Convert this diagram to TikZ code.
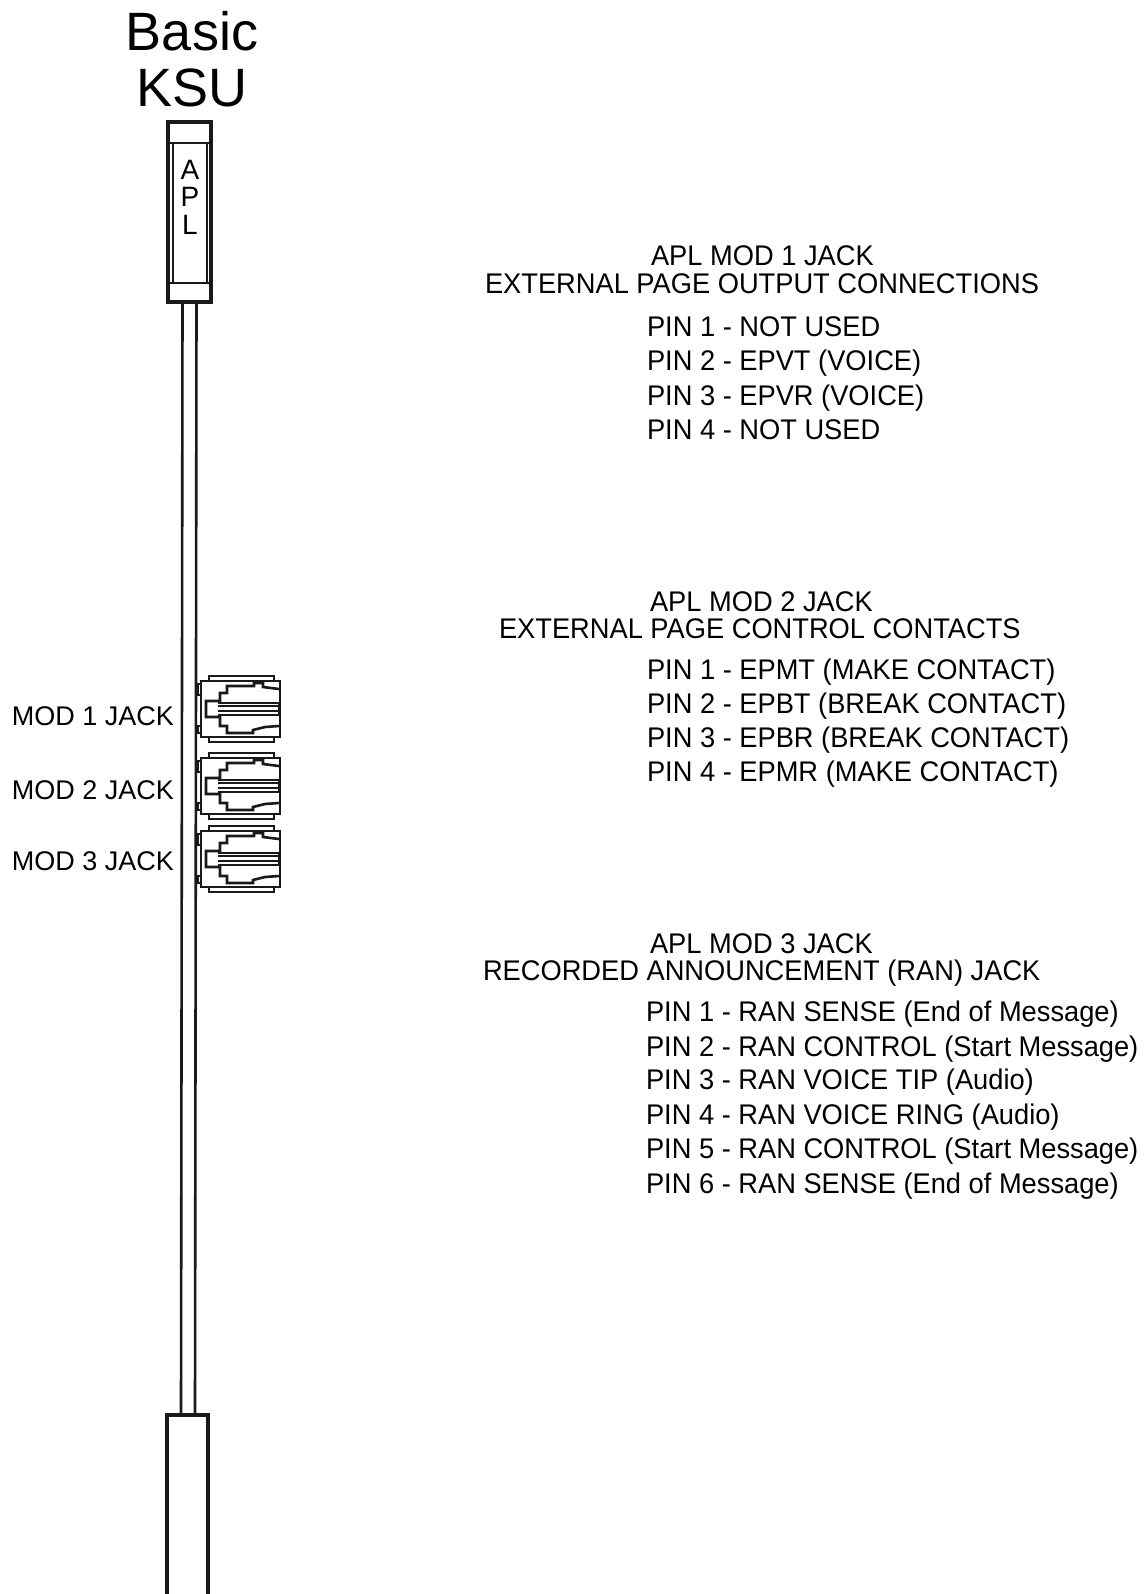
\documentclass[tikz,border=0pt]{standalone}
\usepackage{fontspec}
\setmainfont{Liberation Sans}
\newfontfamily\narrowfont[FakeStretch=0.96]{Liberation Sans}
\newcommand{\fs}[1]{\fontsize{#1}{#1}\selectfont}
\tikzset{
  x=1pt,y=-1pt,
  txt/.style={anchor=base west,inner sep=0pt,outer sep=0pt,font=\narrowfont\fs{28.4}},
  lbl/.style={anchor=base west,inner sep=0pt,outer sep=0pt,font=\fs{27}},
  ttl/.style={anchor=base,inner sep=0pt,outer sep=0pt,font=\fs{54}},
  apl/.style={anchor=base,inner sep=0pt,outer sep=0pt,font=\fs{28}},
  ln/.style={draw=black!90,line width=2.6pt,line join=miter},
  thk/.style={draw=black!90,line width=3.2pt,line join=miter},
  jack/.pic={
    \draw[ln] (0,-28) rectangle (79,28);
    \draw[ln] (8,-28) -- (8,-33) -- (73,-33) -- (73,-28);
    \draw[ln] (8,28) -- (8,33) -- (73,33) -- (73,28);
    \draw[ln] (0,-25) -- (-3,-25) -- (-3,-14) -- (0,-14);
    \draw[ln] (0,17) -- (-3,17) -- (-3,24) -- (0,24);
    \draw[ln] (78,-20) -- (62,-22) -- (62,-26) -- (53,-26) -- (53,-23) -- (26,-23) -- (26,-16) -- (19,-16) -- (19,-8) -- (5,-8) -- (5,8) -- (19,8) -- (19,17) -- (26,17) -- (26,24) -- (52,24) -- (52,21) -- (64,18) -- (78,17);
    \foreach \yy in {-6,-3,2,6}{\draw[draw=black!90,line width=1.8pt] (17,\yy) -- (79,\yy);}
    \draw[line width=2.8pt,black!90] (78,-6) -- (78,7);
  }
}
\begin{document}
\begin{tikzpicture}
\useasboundingbox (0,0) rectangle (1145,1594);
% title
\node[ttl] (t1) at (192,51) {Basic};
\node[ttl] (t2) at (192,107) {KSU};
% top housing
\draw[thk] (168,122) rectangle (211,302);
\draw[ln] (168,143) -- (211,143);
\draw[ln] (168,283) -- (211,283);
\draw[ln] (173,143) -- (173,283);
\draw[ln] (207,143) -- (207,283);
\node[apl] (a1) at (190,180) {A};
\node[apl] (a2) at (190,207) {P};
\node[apl] (a3) at (190,235) {L};
% stem
\draw[ln] (182.5,302) -- (181,1415);
\draw[ln] (196.5,302) -- (195,1415);
% bottom housing
\draw[thk] (167,1594) -- (167,1415) -- (208,1415) -- (208,1594);
% jacks
\pic at (201,709) {jack};
\pic at (201,786) {jack};
\pic at (201,859) {jack};
% labels
\node[lbl] (m1) at (12,725) {MOD 1 JACK};
\node[lbl] (m2) at (12,799) {MOD 2 JACK};
\node[lbl] (m3) at (12,870) {MOD 3 JACK};
% block 1
\node[txt] at (651,266) {APL MOD 1 JACK};
\node[txt] at (485,294) {EXTERNAL PAGE OUTPUT CONNECTIONS};
\node[txt] at (647,336) {PIN 1 - NOT USED};
\node[txt] at (647,370) {PIN 2 - EPVT (VOICE)};
\node[txt] at (647,405) {PIN 3 - EPVR (VOICE)};
\node[txt] at (647,439) {PIN 4 - NOT USED};
% block 2
\node[txt] at (650,611) {APL MOD 2 JACK};
\node[txt] at (499,638) {EXTERNAL PAGE CONTROL CONTACTS};
\node[txt] at (647,679) {PIN 1 - EPMT (MAKE CONTACT)};
\node[txt] at (647,713) {PIN 2 - EPBT (BREAK CONTACT)};
\node[txt] at (647,747) {PIN 3 - EPBR (BREAK CONTACT)};
\node[txt] at (647,781) {PIN 4 - EPMR (MAKE CONTACT)};
% block 3
\node[txt] at (650,953) {APL MOD 3 JACK};
\node[txt] at (483,980) {RECORDED ANNOUNCEMENT (RAN) JACK};
\node[txt] at (646,1021) {PIN 1 - RAN SENSE (End of Message)};
\node[txt] at (646,1056) {PIN 2 - RAN CONTROL (Start Message)};
\node[txt] at (646,1089) {PIN 3 - RAN VOICE TIP (Audio)};
\node[txt] at (646,1124) {PIN 4 - RAN VOICE RING (Audio)};
\node[txt] at (646,1158) {PIN 5 - RAN CONTROL (Start Message)};
\node[txt] at (646,1193) {PIN 6 - RAN SENSE (End of Message)};
\end{tikzpicture}
\end{document}
